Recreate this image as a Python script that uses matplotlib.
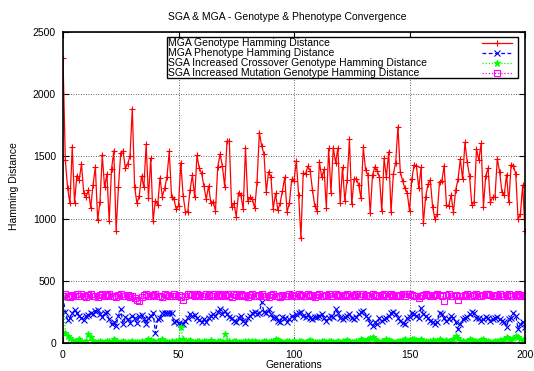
import matplotlib
matplotlib.use("Agg")
import matplotlib.pyplot as plt
from matplotlib.lines import Line2D
from matplotlib.patches import Rectangle
import numpy as np

plt.rcParams['font.family'] = ['Liberation Sans', 'DejaVu Sans']

title = "SGA & MGA - Genotype & Phenotype Convergence"
xlabel = "Generations"
ylabel = "Hamming Distance"
labels = ["MGA Genotype Hamming Distance",
          "MGA Phenotype Hamming Distance",
          "SGA Increased Crossover Genotype Hamming Distance",
          "SGA Increased Mutation Genotype Hamming Distance"]
xticks = [0, 50, 100, 150, 200]
yticks = [0, 500, 1000, 1500, 2000, 2500]

generations = list(range(201))

mga_genotype = [
    2290, 1471, 1243, 1123, 1578, 1128, 1345, 1310, 1439, 1203,
    1176, 1230, 1086, 1270, 1417, 989, 1134, 1511, 1251, 1358,
    981, 1396, 1545, 904, 1251, 1530, 1543, 1404, 1439, 1503,
    1885, 1257, 1123, 1182, 1342, 1251, 1596, 1166, 1487, 981,
    1144, 1110, 1329, 1176, 1243, 1332, 1543, 1174, 1160, 1075,
    1102, 1449, 1185, 1056, 1053, 1230, 1348, 1171, 1508, 1404,
    1364, 1262, 1155, 1262, 1128, 1136, 1064, 1417, 1519, 1422,
    1257, 1623, 1623, 1091, 1123, 1016, 1209, 1190, 1075, 1564,
    1144, 1171, 1155, 1083, 1297, 1690, 1583, 1519, 1214, 1377,
    1337, 1078, 1203, 1070, 1123, 1225, 1332, 1053, 1123, 1316,
    1300, 1465, 1190, 845, 1369, 1358, 1422, 1385, 1230, 1102,
    1062, 1455, 1332, 1396, 1088, 1564, 1209, 1570, 1449, 1567,
    1123, 1412, 1142, 1310, 1636, 1115, 1316, 1321, 1270, 1163,
    1572, 1390, 1350, 1043, 1350, 1417, 1385, 1332, 1062, 1484,
    1332, 1537, 1051, 1356, 1449, 1738, 1377, 1305, 1243, 1209,
    1062, 1316, 1431, 1425, 1243, 1412, 963, 1176, 1275, 1310,
    1096, 995, 1037, 1297, 1302, 1425, 1110, 1102, 1190, 1051,
    1230, 1316, 1476, 1316, 1612, 1452, 1342, 1107, 1136, 1559,
    1471, 1604, 1096, 1345, 1404, 1134, 1171, 1171, 1481, 1377,
    1217, 1187, 1353, 1131, 1433, 1425, 1358, 995, 1035, 1270,
    904]

mga_phenotype = [
    368, 250, 188, 200, 240, 262, 240, 215, 200, 188,
    215, 222, 240, 236, 260, 265, 230, 205, 240, 250,
    190, 150, 170, 140, 220, 270, 150, 205, 190, 160,
    215, 200, 160, 215, 225, 190, 150, 200, 215, 245,
    80, 190, 200, 240, 245, 240, 245, 238, 170, 180,
    160, 150, 155, 175, 200, 230, 220, 225, 200, 185,
    165, 190, 170, 200, 220, 230, 215, 250, 270, 235,
    255, 230, 210, 200, 180, 170, 200, 220, 180, 160,
    200, 215, 240, 250, 230, 245, 330, 250, 240, 270,
    230, 200, 210, 180, 170, 210, 200, 170, 190, 220,
    200, 230, 240, 250, 220, 210, 230, 200, 190, 210,
    205, 220, 230, 200, 180, 200, 220, 210, 270, 240,
    200, 190, 210, 220, 230, 200, 190, 210, 230, 250,
    255, 220, 200, 160, 140, 170, 150, 200, 175, 190,
    200, 220, 240, 250, 230, 200, 180, 160, 150, 200,
    210, 240, 230, 220, 200, 280, 230, 220, 200, 180,
    170, 150, 170, 240, 230, 200, 180, 190, 220, 200,
    170, 110, 150, 190, 200, 210, 230, 250, 240, 200,
    200, 180, 190, 210, 200, 180, 190, 200, 210, 190,
    180, 170, 130, 190, 200, 240, 220, 110, 150, 170,
    130]

sga_crossover = [
    370, 80, 60, 40, 25, 15, 10, 30, 20, 10,
    15, 70, 45, 20, 10, 5, 15, 10, 5, 20,
    15, 10, 30, 20, 10, 5, 15, 10, 5, 10,
    20, 10, 5, 10, 15, 5, 20, 30, 25, 20,
    10, 15, 20, 30, 15, 10, 5, 20, 10, 15,
    25, 130, 30, 20, 15, 25, 10, 5, 20, 15,
    10, 20, 15, 10, 25, 10, 5, 15, 20, 10,
    70, 20, 15, 10, 20, 15, 10, 5, 10, 15,
    20, 10, 15, 20, 10, 5, 10, 15, 20, 10,
    15, 20, 30, 25, 15, 10, 5, 15, 20, 10,
    15, 10, 20, 15, 10, 5, 15, 25, 20, 10,
    5, 10, 15, 20, 10, 15, 20, 10, 5, 15,
    10, 15, 20, 25, 15, 10, 5, 20, 15, 30,
    25, 20, 35, 40, 50, 30, 20, 10, 15, 20,
    30, 25, 20, 10, 5, 15, 20, 25, 30, 20,
    25, 30, 35, 25, 20, 30, 20, 15, 10, 20,
    25, 20, 15, 30, 20, 10, 25, 20, 15, 30,
    60, 40, 20, 15, 10, 20, 30, 25, 20, 15,
    20, 25, 30, 20, 15, 10, 5, 15, 20, 25,
    20, 30, 50, 35, 25, 40, 55, 45, 30, 25,
    20]

sga_mutation = [
    380, 390, 375, 370, 385, 380, 390, 375, 395, 380,
    370, 385, 390, 380, 375, 370, 385, 395, 380, 385,
    390, 375, 380, 370, 385, 390, 380, 375, 385, 370,
    380, 360, 345, 340, 370, 385, 390, 380, 375, 385,
    390, 380, 375, 370, 390, 385, 380, 375, 390, 380,
    385, 370, 345, 380, 390, 395, 385, 380, 390, 385,
    380, 375, 390, 385, 380, 390, 375, 385, 390, 380,
    385, 390, 375, 370, 395, 385, 380, 390, 385, 375,
    370, 385, 390, 380, 375, 385, 390, 380, 375, 370,
    385, 390, 375, 380, 370, 385, 380, 375, 390, 385,
    380, 375, 390, 385, 380, 375, 390, 385, 380, 370,
    385, 390, 380, 375, 385, 390, 380, 375, 390, 385,
    380, 375, 385, 390, 380, 375, 385, 390, 380, 375,
    390, 385, 380, 375, 390, 385, 380, 375, 385, 390,
    380, 375, 390, 385, 380, 375, 385, 390, 380, 395,
    390, 385, 380, 375, 360, 380, 385, 390, 385, 380,
    375, 385, 390, 385, 380, 340, 385, 390, 380, 375,
    385, 345, 380, 375, 385, 390, 380, 375, 385, 390,
    380, 375, 385, 390, 395, 385, 380, 375, 385, 390,
    380, 375, 385, 390, 380, 375, 385, 390, 380, 385,
    380]

series = [mga_genotype, mga_phenotype, sga_crossover, sga_mutation]
colors = ["#ff0000", "#0000ff", "#00ff00", "#ff00ff"]
linestyles = ["-", (0, (3, 2)), (0, (1, 1.5)), (0, (1, 1.5))]
markers = ["+", "x", "*", "s"]
msizes = [5, 4, 4.5, 4.5]

fig = plt.figure(figsize=(5.34, 3.71), dpi=100)
ax = fig.add_axes([63/534, 1-343/371, 462/534, 311/371])

for ys, c, ls, m, ms in zip(series, colors, linestyles, markers, msizes):
    mfc = 'none' if m == 's' else c
    ax.plot(generations, ys, color=c, linestyle=ls, linewidth=0.9,
            marker=m, markersize=ms, markerfacecolor=mfc,
            markeredgecolor=c, markeredgewidth=0.8, clip_on=True)

ax.set_xlim(0, 200)
ax.set_ylim(0, 2500)
ax.set_xticks(xticks)
ax.set_yticks(yticks)
ax.tick_params(direction='in', length=4, width=0.8, labelsize=7.5,
               top=True, right=True, pad=5)
ax.grid(True, color='#333333', linestyle=(0, (1, 2)), linewidth=0.6)
for s in ax.spines.values():
    s.set_linewidth(1.2)

fig.text(287/534, 1-17/371, title, ha='center', va='center', fontsize=7.5)
fig.text(294/534, 1-365/371, xlabel, ha='center', va='center', fontsize=7.5)
fig.text(14/534, 1-186/371, ylabel, ha='center', va='center', rotation=90, fontsize=7.5)

# legend (gnuplot style: text left, samples right)
x0, x1 = (167-63)/462, (518-63)/462
y0, y1 = (343-78)/311, (343-37)/311
ax.add_patch(Rectangle((x0, y0), x1-x0, y1-y0, transform=ax.transAxes,
                       facecolor='white', edgecolor='black', linewidth=1.0, zorder=5))
rows = [43, 53, 63, 73]
for lab, c, ls, m, ms, ry in zip(labels, colors, linestyles, markers, msizes, rows):
    yy = (343-ry)/311
    ax.text((168-63)/462, yy, lab, transform=ax.transAxes, ha='left', va='center',
            fontsize=7.5, zorder=6)
    mfc = 'none' if m == 's' else c
    ax.add_line(Line2D([(482-63)/462, (512-63)/462], [yy, yy], transform=ax.transAxes,
                       color=c, linestyle=ls, linewidth=0.9, zorder=6))
    ax.add_line(Line2D([(497-63)/462], [yy], transform=ax.transAxes, color=c,
                       marker=m, markersize=ms, markerfacecolor=mfc,
                       markeredgecolor=c, markeredgewidth=0.8, linestyle='none', zorder=6))

fig.savefig("out.png", dpi=100)
